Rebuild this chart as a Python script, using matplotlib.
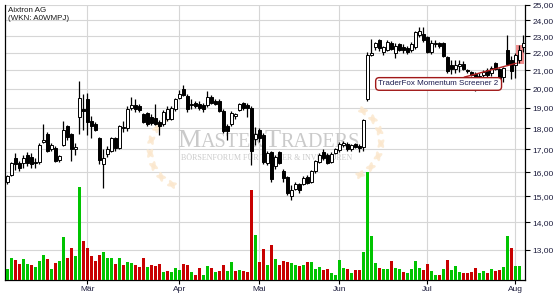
import numpy as np
import matplotlib
matplotlib.use('Agg')
import matplotlib.pyplot as plt
from matplotlib.patches import Rectangle, Ellipse
from matplotlib.ticker import FixedLocator, FuncFormatter, NullLocator

plt.rcParams['font.family'] = ['Liberation Sans', 'DejaVu Sans']

title = 'Aixtron AG'
wkn = '(WKN: A0WMPJ)'
signal_label = 'TraderFox Momentum Screener 2'

# daily candles, 1 Feb .. 3 Aug (trading days)
opens = [15.60, 15.90, 16.60, 16.40, 16.38, 16.73, 16.65, 16.44, 16.43, 17.35,
         17.70, 17.00, 17.05, 16.52, 17.20, 18.10, 17.70, 17.00, 18.55, 18.95,
         19.43, 18.35, 18.20, 17.55, 16.35, 16.80, 16.95, 17.55, 17.05, 18.00,
         18.00, 19.00, 19.15, 19.10, 18.70, 18.75, 18.55, 18.50, 18.30, 18.20,
         18.42, 18.45, 18.92, 19.50, 20.00, 19.60, 19.20, 19.25, 19.20, 19.12,
         19.15, 19.55, 19.35, 19.35, 18.85, 18.10, 18.20, 18.60, 18.90, 19.25,
         19.15, 19.00, 17.50, 17.90, 17.68, 16.40, 16.90, 16.25, 16.90, 16.05,
         15.80, 15.02, 15.30, 15.50, 15.50, 15.80, 15.60, 16.05, 16.45, 16.90,
         16.75, 16.45, 16.85, 16.98, 17.20, 17.25, 17.00, 17.25, 17.15, 17.10,
         19.45, 21.90, 22.35, 22.75, 22.08, 22.20, 22.60, 22.00, 22.50, 22.35,
         22.30, 22.15, 22.35, 23.10, 23.15, 22.95, 22.05, 22.50, 22.60, 22.60,
         21.75, 21.30, 21.05, 21.25, 21.35, 21.00, 20.90, 20.80, 20.60, 20.75,
         21.00, 20.85, 21.40, 21.05, 20.65, 22.20, 21.60, 21.30, 21.60, 22.35]
highs = [15.87, 16.45, 16.85, 16.50, 16.75, 16.90, 16.85, 16.60, 17.30, 18.20,
         17.80, 17.30, 17.15, 16.75, 18.35, 18.15, 17.75, 17.30, 20.40, 19.70,
         19.75, 18.60, 18.30, 17.60, 17.00, 17.15, 17.60, 17.60, 18.15, 18.35,
         19.10, 19.55, 19.45, 19.20, 18.75, 18.80, 18.70, 19.20, 18.40, 18.90,
         19.10, 19.10, 19.50, 19.90, 20.20, 19.70, 19.45, 19.35, 19.35, 19.25,
         19.85, 19.65, 19.45, 19.45, 18.92, 18.20, 18.85, 18.75, 19.25, 19.30,
         19.25, 19.10, 18.05, 18.00, 17.75, 16.95, 16.95, 16.75, 16.95, 16.15,
         15.85, 15.45, 15.60, 15.55, 15.85, 15.90, 16.10, 16.55, 16.85, 17.00,
         16.85, 16.90, 17.05, 17.35, 17.40, 17.35, 17.25, 17.30, 17.25, 18.45,
         22.05, 22.85, 22.65, 22.85, 22.40, 22.75, 22.70, 22.60, 22.60, 22.55,
         22.40, 22.65, 23.35, 23.55, 23.55, 23.00, 22.75, 22.75, 22.65, 22.65,
         21.80, 21.60, 21.60, 21.60, 21.55, 21.10, 20.95, 20.90, 20.85, 21.00,
         21.15, 21.25, 21.50, 21.15, 21.20, 23.10, 21.80, 22.00, 22.45, 23.10]
lows = [15.50, 15.85, 16.10, 16.05, 16.20, 16.25, 16.20, 16.20, 16.35, 17.30,
        16.90, 16.95, 16.45, 16.45, 17.15, 17.45, 16.50, 16.75, 17.70, 17.90,
        17.65, 17.55, 17.85, 16.35, 15.35, 16.65, 16.90, 16.95, 17.00, 17.80,
        17.85, 18.90, 18.80, 18.80, 18.25, 18.10, 18.15, 18.15, 17.65, 18.10,
        18.35, 18.38, 18.85, 19.45, 19.60, 18.80, 18.95, 19.00, 18.90, 18.80,
        19.05, 19.20, 19.15, 18.80, 17.75, 17.45, 18.10, 18.45, 18.85, 18.90,
        18.55, 16.30, 17.20, 17.35, 16.35, 16.30, 15.60, 16.15, 16.35, 15.60,
        15.05, 14.86, 15.25, 15.15, 15.45, 15.50, 15.55, 15.95, 16.40, 16.55,
        16.35, 16.40, 16.80, 16.90, 17.10, 16.95, 16.95, 17.05, 16.90, 16.95,
        19.35, 21.80, 22.20, 22.10, 21.85, 22.10, 22.15, 21.70, 22.10, 22.00,
        21.95, 22.05, 22.25, 22.95, 22.65, 22.00, 21.95, 22.35, 22.30, 21.75,
        20.85, 20.80, 20.85, 20.90, 21.00, 20.85, 20.70, 19.85, 20.50, 20.60,
        20.65, 20.70, 21.00, 20.10, 20.35, 21.30, 20.50, 20.60, 21.40, 22.05]
closes = [15.82, 16.40, 16.35, 16.20, 16.60, 16.40, 16.35, 16.40, 17.20, 17.45,
          16.95, 17.20, 16.47, 16.70, 17.90, 17.60, 17.00, 17.10, 19.50, 18.85,
          18.30, 18.10, 17.90, 16.55, 16.60, 17.00, 17.55, 17.05, 18.10, 18.07,
          18.92, 19.15, 18.95, 18.90, 18.30, 18.20, 18.25, 18.20, 18.10, 18.80,
          18.92, 19.00, 19.45, 19.70, 19.65, 18.95, 19.15, 19.10, 18.98, 18.92,
          19.55, 19.25, 19.20, 18.85, 17.85, 17.85, 18.75, 18.70, 19.20, 19.00,
          19.00, 16.95, 17.70, 17.55, 16.45, 16.85, 15.70, 16.68, 16.40, 15.75,
          15.12, 15.26, 15.50, 15.25, 15.75, 15.55, 16.05, 16.50, 16.75, 16.62,
          16.42, 16.80, 17.00, 17.25, 17.30, 17.00, 17.20, 17.10, 17.05, 18.40,
          21.90, 22.00, 22.60, 22.30, 22.37, 22.65, 22.25, 22.40, 22.15, 22.20,
          22.05, 22.55, 23.25, 23.35, 22.75, 22.05, 22.60, 22.60, 22.40, 21.80,
          20.95, 21.05, 21.30, 21.35, 21.10, 20.95, 20.75, 20.60, 20.70, 20.90,
          20.75, 21.15, 21.10, 20.50, 21.15, 21.35, 20.95, 21.85, 22.20, 22.60]

# volume in 1000 shares (no bar yet for the last day)
volumes = [550, 1100, 1000, 800, 1050, 800, 750, 650, 950, 1250,
           1050, 550, 850, 950, 2150, 1100, 1600, 1200, 4650, 1950,
           1600, 1200, 950, 1250, 1400, 1100, 1100, 800, 1100, 750,
           900, 850, 750, 650, 1100, 650, 750, 700, 800, 400,
           450, 400, 600, 500, 800, 750, 400, 250, 600, 250,
           700, 600, 400, 450, 750, 450, 900, 450, 500, 450,
           400, 4500, 2250, 900, 1550, 750, 1750, 1050, 750, 950,
           900, 850, 750, 700, 750, 900, 900, 550, 650, 500,
           550, 350, 250, 1000, 600, 550, 350, 500, 500, 1400,
           5400, 2200, 850, 600, 550, 550, 950, 600, 550, 400,
           350, 550, 950, 600, 500, 800, 450, 250, 250, 550,
           1000, 500, 700, 400, 350, 350, 400, 600, 350, 450,
           350, 550, 450, 500, 650, 2200, 1600, 700, 700]
vol_up = [1, 1, 0, 0, 1, 1, 0, 1, 1, 1, 0, 1, 0, 1, 1, 0, 0, 1, 1, 0,
          0, 0, 0, 0, 1, 1, 1, 0, 1, 0, 1, 1, 0, 0, 0, 1, 0, 0, 0, 1,
          0, 1, 1, 1, 0, 0, 1, 0, 0, 1, 1, 0, 1, 0, 0, 1, 1, 0, 1, 0,
          0, 0, 1, 0, 0, 1, 0, 1, 0, 0, 0, 1, 1, 0, 1, 0, 1, 1, 1, 0,
          0, 1, 1, 1, 1, 0, 1, 0, 0, 1, 1, 1, 1, 0, 1, 1, 0, 1, 1, 0,
          1, 1, 1, 1, 0, 0, 1, 1, 0, 1, 0, 1, 1, 1, 0, 0, 0, 0, 1, 1,
          0, 1, 0, 0, 1, 1, 0, 1, 1]

month_labels = ['Mär', 'Apr', 'Mai', 'Jun', 'Jul', 'Aug']
month_starts = [20, 43, 63, 83, 105, 127]
price_ticks = [13, 14, 15, 16, 17, 18, 19, 20, 21, 22, 23, 24, 25]

# screener hit: day span and price span of the marked zone
signal_days = (127.2, 129.1)
signal_prices = (21.35, 22.45)
signal_text_pos = (107.8, 20.25)

o = np.array(opens)
h = np.array(highs)
l = np.array(lows)
c = np.array(closes)
days = np.arange(len(o))
vdays = np.arange(len(volumes))

fig = plt.figure(figsize=(5.55, 3.0), dpi=100)
rect = [5 / 555, 20 / 300, 520 / 555, 275 / 300]

# price axis: grid, ticks, spines
ax = fig.add_axes(rect)
ax.set_zorder(1)
ax.set_yscale('log')
ax.set_xlim(-0.6, 129.4)
ax.set_ylim(12.0, 25.0)
ax.yaxis.set_major_locator(FixedLocator(price_ticks))
ax.yaxis.set_minor_locator(NullLocator())
ax.yaxis.set_major_formatter(FuncFormatter(lambda v, _: f'{v:.2f}'.replace('.', ',')))
ax.yaxis.tick_right()
ax.set_xticks(month_starts)
ax.set_xticklabels(month_labels)
ax.tick_params(axis='y', direction='out', length=3.5, width=0.8, pad=2,
               labelsize=6, labelcolor='#1c1c3c')
ax.tick_params(axis='x', direction='out', length=3, width=0.8, pad=1.5,
               labelsize=6, labelcolor='#1c1c3c')
ax.grid(True, color='#d6d6d6', linewidth=0.8)
for side in ['left', 'right', 'bottom', 'top']:
    ax.spines[side].set_color('black')
    ax.spines[side].set_linewidth(0.9)
ax.spines['top'].set_visible(False)

# watermark in pixel coordinates
ax_wm = fig.add_axes([0, 0, 1, 1])
ax_wm.set_zorder(2)
ax_wm.set_xlim(0, 555)
ax_wm.set_ylim(300, 0)
ax_wm.axis('off')
ax_wm.patch.set_visible(False)
wm_col = '#cacaca'
t = ax_wm.text(177, 147, 'M', family='Liberation Serif', fontsize=19, color=wm_col,
               va='baseline')
for piece, size in [('ASTER', 14.5), ('T', 19), ('RADERS', 14.5)]:
    t = ax_wm.annotate(piece, xy=(1, 0), xycoords=t, family='Liberation Serif',
                       fontsize=size, color=wm_col, va='bottom', ha='left')
ax_wm.text(267, 160, 'BÖRSENFORUM FÜR TRADER & INVESTOREN', family='Liberation Serif',
           fontsize=5.8, color=wm_col, ha='center', va='baseline')

leaf_col = '#fbe7cc'
for cx, cy, r, a0, a1 in [(188, 150, 38, 115, 235), (345, 142, 36, -60, 65)]:
    for a in np.linspace(a0, a1, 7):
        px = cx + r * np.cos(np.radians(a))
        py = cy + r * np.sin(np.radians(a))
        for off in (-35, 35):
            ax_wm.add_patch(Ellipse((px, py), 10, 4, angle=a + 90 + off,
                                    color=leaf_col, alpha=0.8, lw=0))

# volume bars
ax_vol = fig.add_axes(rect, sharex=ax)
ax_vol.set_zorder(3)
ax_vol.set_ylim(0, 13750)
ax_vol.axis('off')
ax_vol.patch.set_visible(False)
vcols = ['#00c400' if u else '#c80000' for u in vol_up]
ax_vol.bar(vdays, volumes, width=0.72, color=vcols, linewidth=0)

# candles
ax_c = fig.add_axes(rect, sharex=ax, sharey=ax)
ax_c.set_zorder(4)
ax_c.axis('off')
ax_c.patch.set_visible(False)

ax_c.add_patch(Rectangle((signal_days[0], signal_prices[0]),
                         signal_days[1] - signal_days[0],
                         signal_prices[1] - signal_prices[0],
                         facecolor='#f06a6a', alpha=0.75, lw=0, zorder=1))

ax_c.vlines(days, l, h, color='black', linewidth=0.9, zorder=2)
body_lo = np.minimum(o, c)
body_h = np.maximum(np.abs(c - o), 0.02)
faces = ['white' if cc >= oo else 'black' for oo, cc in zip(o, c)]
ax_c.bar(days, body_h, bottom=body_lo, width=0.6, color=faces,
         edgecolor='black', linewidth=0.7, zorder=3)

ax_c.annotate(signal_label, xy=(signal_days[0], signal_prices[0] + 0.05),
              xytext=signal_text_pos, ha='center', va='center', fontsize=5.8,
              color='#1c1c50', zorder=5,
              bbox=dict(boxstyle='round,pad=0.35,rounding_size=0.45', fc='white',
                        ec='#a01818', lw=1.0),
              arrowprops=dict(arrowstyle='-', color='#b02020', lw=1.0,
                              shrinkA=0, shrinkB=0))

ax_c.text(0.006, 0.993, title + '\n' + wkn, transform=ax_c.transAxes, va='top',
          ha='left', fontsize=5.8, color='#1a1a1a', linespacing=1.15)

fig.savefig('out.png', dpi=100, facecolor='white')
